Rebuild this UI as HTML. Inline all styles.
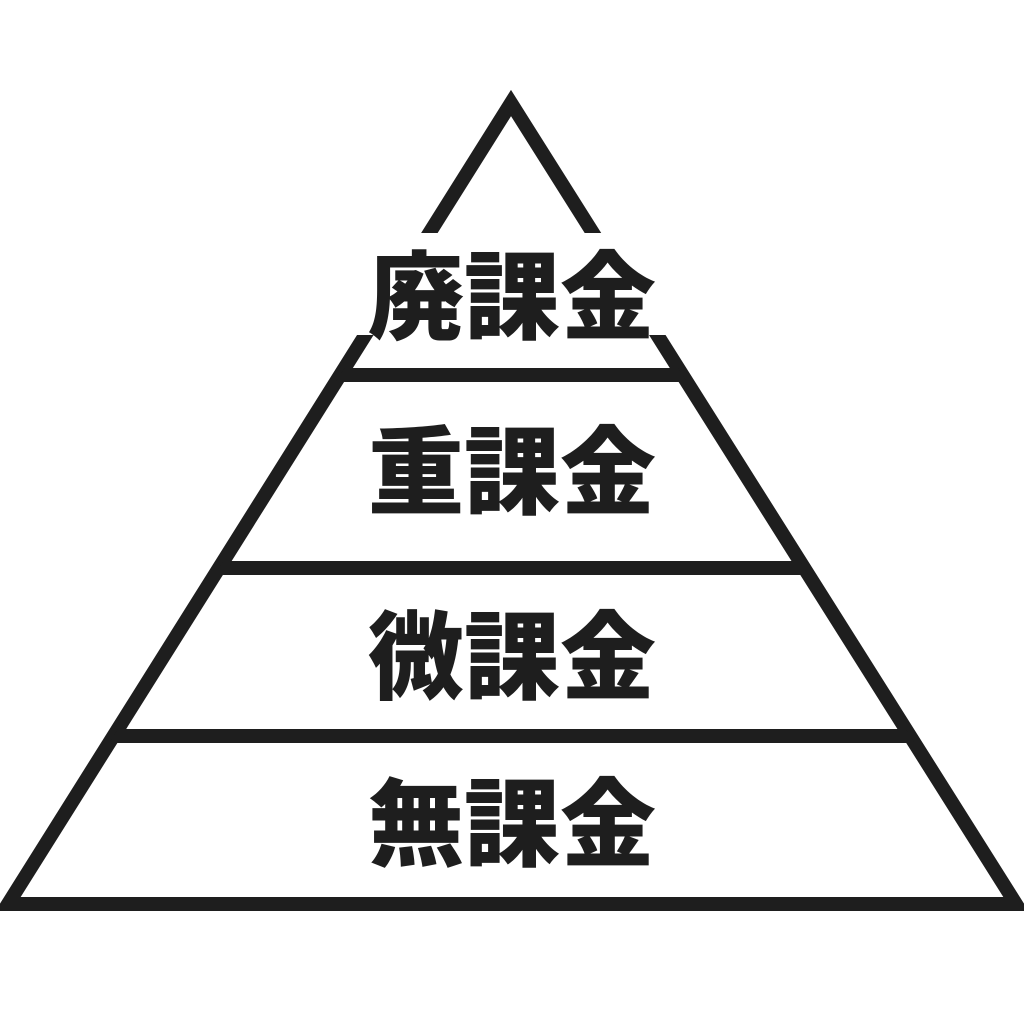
<!DOCTYPE html>
<html><head><meta charset="utf-8"><style>
html,body{margin:0;padding:0;background:#fff;}
svg{display:block;}
text{font-family:"Liberation Sans","Noto Sans CJK JP",sans-serif;font-weight:900;fill:#1e1e1e;}
</style></head><body>
<svg width="1024" height="1024" viewBox="0 0 1024 1024" xmlns="http://www.w3.org/2000/svg">
<defs><clipPath id="c"><polygon points="511,103 1016,904 8,904"/></clipPath></defs>
<g stroke="#1e1e1e" stroke-width="14" fill="none" stroke-linejoin="miter">
<polygon points="511,103 1016,904 8,904"/>
<g clip-path="url(#c)">
<line x1="300" y1="375" x2="724" y2="375"/>
<line x1="180" y1="568" x2="844" y2="568"/>
<line x1="70" y1="736" x2="954" y2="736"/>
</g>
</g>
<rect x="300" y="233" width="424" height="102" fill="#fff"/>
<g font-size="96" text-anchor="middle" dominant-baseline="central">
<text x="512" y="299">廃課金</text>
<text x="512" y="474">重課金</text>
<text x="512" y="659">微課金</text>
<text x="512" y="826">無課金</text>
</g>
</svg>
</body></html>
